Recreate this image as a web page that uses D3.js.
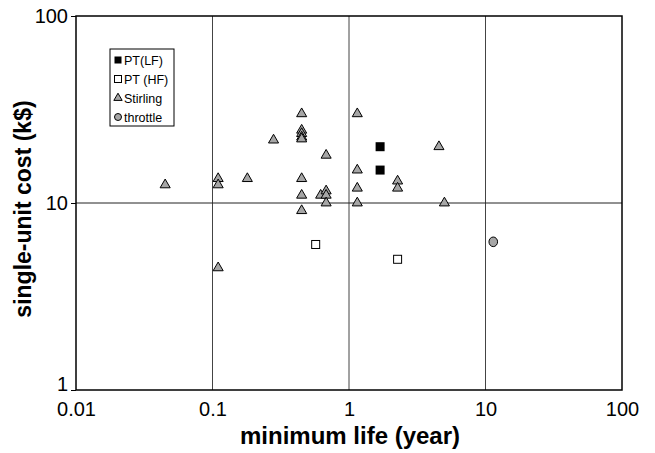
<!DOCTYPE html>
<html>
<head>
<meta charset="utf-8">
<script src="https://cdn.jsdelivr.net/npm/d3@7"></script>
<style>
  html, body { margin: 0; padding: 0; background: #fff; }
  svg { display: block; font-family: Arial, "Liberation Sans", sans-serif; }
</style>
</head>
<body>
<svg id="chart" width="655" height="453"></svg>
<script>
// Minimum life (years) vs single-unit cost (k$) for cryocooler types
const stirlingLife = [0.045, 0.11, 0.11, 0.11, 0.18, 0.28, 0.45, 0.45, 0.45, 0.45, 0.45, 0.45, 0.45, 0.45,
                      0.62, 0.68, 0.68, 0.68, 0.68, 1.15, 1.15, 1.15, 1.15, 2.27, 2.27, 4.56, 5.0];
const stirlingCost = [12.5, 13.5, 12.5, 4.5, 13.5, 21.7, 30, 24.5, 23.5, 22.5, 22, 13.5, 11, 9.1,
                      11, 18, 11.6, 11, 10, 30, 15, 12, 10, 13.1, 12, 20, 10];
const ptlfLife = [1.69, 1.69];
const ptlfCost = [20, 15];
const pthfLife = [0.57, 2.27];
const pthfCost = [6, 5];
const throttleLife = [11.4];
const throttleCost = [6.2];

const xTicks = [0.01, 0.1, 1, 10, 100];
const yTicks = [1, 10, 100];
const xTickLabels = ["0.01", "0.1", "1", "10", "100"];
const yTickLabels = ["1", "10", "100"];

const legendNames = ["PT(LF)", "PT (HF)", "Stirling", "throttle"];

const plot = { left: 76, right: 622, top: 16, bottom: 390 };

const svg = d3.select("#chart");

const x = d3.scaleLog().domain([0.01, 100]).range([plot.left, plot.right]);
const y = d3.scaleLog().domain([1, 100]).range([plot.bottom, plot.top]);

// grid lines at each decade
const grid = svg.append("g");
grid.selectAll("line.vx").data(xTicks.slice(1, -1)).enter().append("line")
  .attr("x1", d => x(d)).attr("x2", d => x(d))
  .attr("y1", plot.top).attr("y2", plot.bottom)
  .attr("stroke", "#444").attr("stroke-width", 1);
grid.selectAll("line.hy").data(yTicks.slice(1, -1)).enter().append("line")
  .attr("x1", plot.left).attr("x2", plot.right)
  .attr("y1", d => y(d)).attr("y2", d => y(d))
  .attr("stroke", "#222").attr("stroke-width", 1);

// axes
const xAxis = d3.axisBottom(x).tickValues(xTicks)
  .tickFormat((d, i) => xTickLabels[i]).tickSize(0).tickPadding(12);
const gx = svg.append("g").attr("transform", `translate(0,${plot.bottom})`).call(xAxis);
gx.select(".domain").remove();
gx.selectAll("text").attr("font-size", 20).attr("fill", "#000")
  .attr("font-family", "Arial, 'Liberation Sans', sans-serif");

const yAxis = d3.axisLeft(y).tickValues(yTicks)
  .tickFormat((d, i) => yTickLabels[i]).tickSize(5).tickPadding(3);
const gy = svg.append("g").attr("transform", `translate(${plot.left},0)`).call(yAxis);
gy.select(".domain").remove();
gy.selectAll("line").attr("stroke", "#000");
gy.selectAll("text").attr("font-size", 20).attr("fill", "#000")
  .attr("font-family", "Arial, 'Liberation Sans', sans-serif");
// lowest label sits a little above its tick, clear of the x labels
gy.selectAll(".tick").filter(d => d === 1).select("text").attr("y", -6);

// plot frame
svg.append("rect")
  .attr("x", plot.left).attr("y", plot.top)
  .attr("width", plot.right - plot.left).attr("height", plot.bottom - plot.top)
  .attr("fill", "none").attr("stroke", "#000").attr("stroke-width", 1.5);

// axis titles
svg.append("text")
  .attr("x", (plot.left + plot.right) / 2 + 1).attr("y", 444)
  .attr("text-anchor", "middle").attr("font-size", 24).attr("font-weight", "bold")
  .text("minimum life (year)");
svg.append("text")
  .attr("transform", `translate(31,${(plot.top + plot.bottom) / 2 + 6}) rotate(-90)`)
  .attr("text-anchor", "middle").attr("font-size", 23).attr("font-weight", "bold")
  .text("single-unit cost (k$)");

const marks = svg.append("g");
const tri = d3.symbol().type(d3.symbolTriangle).size(44);

// Stirling
marks.selectAll("path.stirling").data(stirlingLife.map((v, i) => [v, stirlingCost[i]]))
  .enter().append("path")
  .attr("d", tri)
  .attr("transform", d => `translate(${x(d[0])},${y(d[1])})`)
  .attr("fill", "#a6a6a6").attr("stroke", "#000").attr("stroke-width", 1);

// PT (LF)
marks.selectAll("rect.lf").data(ptlfLife.map((v, i) => [v, ptlfCost[i]]))
  .enter().append("rect")
  .attr("x", d => x(d[0]) - 4.5).attr("y", d => y(d[1]) - 4.5)
  .attr("width", 9).attr("height", 9).attr("fill", "#000");

// PT (HF)
marks.selectAll("rect.hf").data(pthfLife.map((v, i) => [v, pthfCost[i]]))
  .enter().append("rect")
  .attr("x", d => x(d[0]) - 4).attr("y", d => y(d[1]) - 4)
  .attr("width", 8).attr("height", 8).attr("fill", "#fff").attr("stroke", "#000");

// throttle
marks.selectAll("ellipse.thr").data(throttleLife.map((v, i) => [v, throttleCost[i]]))
  .enter().append("ellipse")
  .attr("cx", d => x(d[0])).attr("cy", d => y(d[1]))
  .attr("rx", 4.3).attr("ry", 4.8)
  .attr("fill", "#a6a6a6").attr("stroke", "#000");

// legend
const lg = svg.append("g").attr("transform", "translate(110,49)");
lg.append("rect").attr("width", 64).attr("height", 77)
  .attr("fill", "#fff").attr("stroke", "#000").attr("stroke-width", 1);
const rowY = [11, 30, 49, 68];
const mx = 8;
lg.append("rect").attr("x", mx - 3.5).attr("y", rowY[0] - 3.5).attr("width", 7).attr("height", 7).attr("fill", "#000");
lg.append("rect").attr("x", mx - 3.5).attr("y", rowY[1] - 3.5).attr("width", 7).attr("height", 7)
  .attr("fill", "#fff").attr("stroke", "#000");
lg.append("path").attr("d", d3.symbol().type(d3.symbolTriangle).size(30))
  .attr("transform", `translate(${mx},${rowY[2]})`)
  .attr("fill", "#a6a6a6").attr("stroke", "#000");
lg.append("circle").attr("cx", mx).attr("cy", rowY[3]).attr("r", 3.5)
  .attr("fill", "#a6a6a6").attr("stroke", "#000");
lg.selectAll("text.lt").data(legendNames).enter().append("text")
  .attr("x", 14).attr("y", (d, i) => rowY[i]).attr("dy", "0.36em")
  .attr("font-size", 12.5).text(d => d);
</script>
</body>
</html>
